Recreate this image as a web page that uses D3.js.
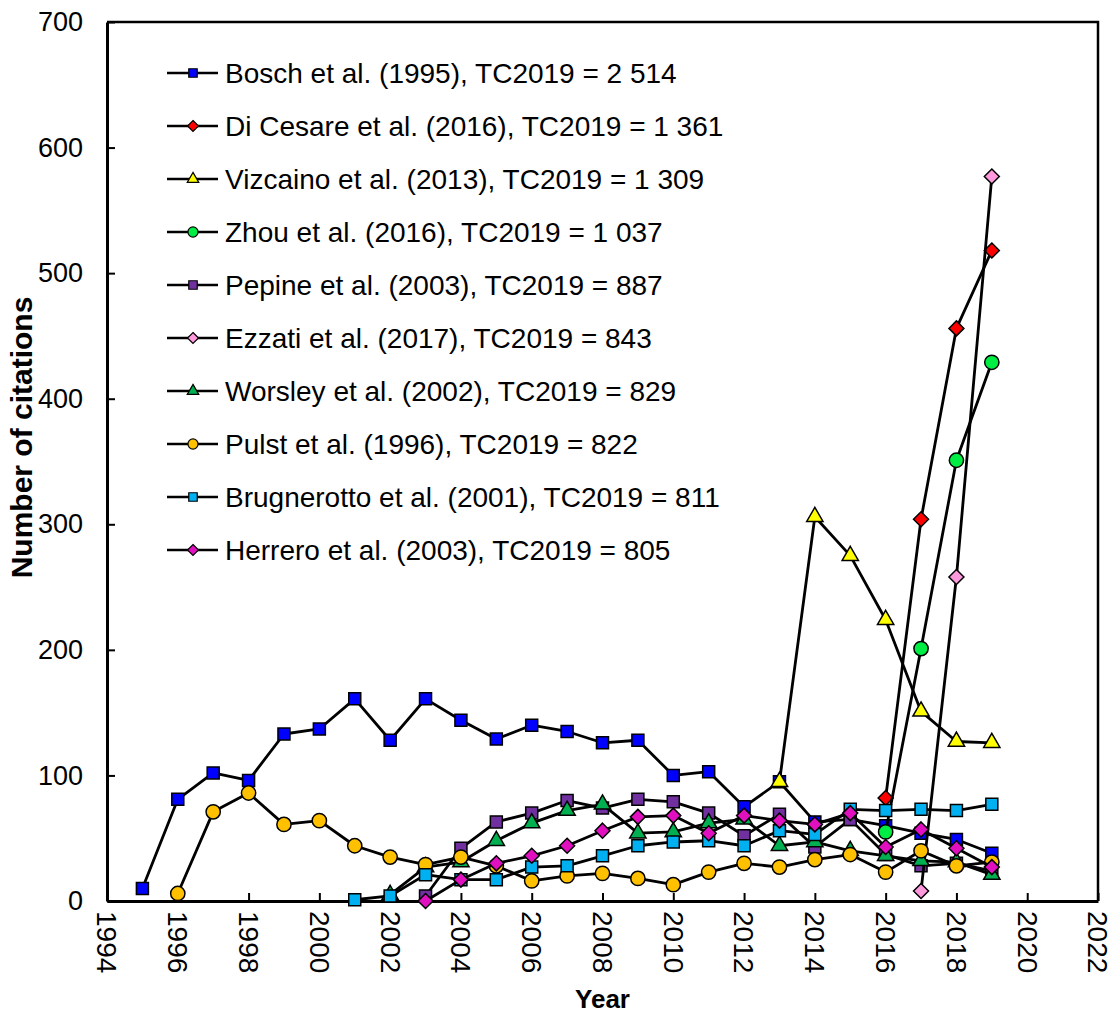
<!DOCTYPE html>
<html>
<head>
<meta charset="utf-8">
<script src="https://cdn.jsdelivr.net/npm/d3@7"></script>
<style>
  body { margin: 0; background: #fff; }
  text { font-family: "Liberation Sans", Arial, sans-serif; fill: #000; }
</style>
</head>
<body>
<script>
'use strict';

// series names as in the legend
const names = [
  "Bosch et al. (1995), TC2019 = 2 514",
  "Di Cesare et al. (2016), TC2019 = 1 361",
  "Vizcaino et al. (2013), TC2019 = 1 309",
  "Zhou et al. (2016), TC2019 = 1 037",
  "Pepine et al. (2003), TC2019 = 887",
  "Ezzati et al. (2017), TC2019 = 843",
  "Worsley et al. (2002), TC2019 = 829",
  "Pulst et al. (1996), TC2019 = 822",
  "Brugnerotto et al. (2001), TC2019 = 811",
  "Herrero et al. (2003), TC2019 = 805"
];

// first year of each series
const startYears = [1995, 2016, 2013, 2016, 2003, 2017, 2002, 1996, 2001, 2003];

// citations per year, starting at startYears
const bosch = [10, 81, 102, 96, 133, 137, 161, 128, 161, 144, 129, 140, 135, 126, 128, 100, 103, 75, 95, 63, 65, 60, 54, 49, 38];
const diCesare = [82, 304, 456, 518];
const vizcaino = [95, 306, 275, 224, 151, 127, 126];
const zhou = [55, 201, 351, 429];
const pepine = [4, 42, 63, 70, 80, 74, 81, 79, 70, 52, 69, 43, 65, 37, 28, 30, 24];
const ezzati = [8, 258, 577];
const worsley = [5, 27, 31, 48, 62, 72, 77, 54, 55, 62, 65, 44, 47, 40, 36, 32, 31, 21];
const pulst = [6, 71, 86, 61, 64, 44, 35, 29, 35, 28, 16, 20, 22, 18, 13, 23, 30, 27, 33, 37, 23, 40, 28, 31];
const brugnerotto = [1, 4, 21, 17, 17, 27, 28, 36, 44, 47, 48, 44, 56, 53, 73, 72, 73, 72, 77];
const herrero = [0, 17, 30, 36, 44, 56, 67, 68, 54, 68, 64, 61, 70, 43, 57, 42, 27];

const seriesValues = [bosch, diCesare, vizcaino, zhou, pepine, ezzati, worsley, pulst, brugnerotto, herrero];

const colors = ["#0000FF", "#FF0000", "#FFFF00", "#00EE44", "#7030A0", "#FF99DD", "#00B050", "#FFC000", "#00B0F0", "#E010C0"];
const shapes = ["square", "diamond", "triangle", "circle", "square", "diamond", "triangle", "circle", "square", "diamond"];

const xTicks = d3.range(1994, 2023, 2);
const yTicks = [0, 100, 200, 300, 400, 500, 600, 700];

const svg = d3.select("body").append("svg")
  .attr("width", 1109)
  .attr("height", 1015);

const xScale = d3.scaleLinear().domain([1994, 2022]).range([107, 1098]);
const yScale = d3.scaleLinear().domain([0, 700]).range([901, 22]);

// marker path generator, big for the plot and small for the legend
function markerPath(shape, small) {
  const k = small ? 0.5 : 1;
  if (shape === "square") return d3.symbol(d3.symbolSquare, 144 * k)();
  if (shape === "circle") return d3.symbol(d3.symbolCircle, 160 * k)();
  if (shape === "triangle") return d3.symbol(d3.symbolTriangle, 115 * k)();
  // diamond: square turned 45 degrees
  const h = small ? 5.5 : 7.5;
  return `M0,${-h}L${h},0L0,${h}L${-h},0Z`;
}

// frame (top and right edges)
svg.append("path")
  .attr("d", `M${xScale(1994)},${yScale(700)}H${xScale(2022)}V${yScale(0)}`)
  .attr("fill", "none")
  .attr("stroke", "#000")
  .attr("stroke-width", 2.5);

// axes
const xAxis = svg.append("g")
  .attr("transform", `translate(0,${yScale(0)})`)
  .call(d3.axisBottom(xScale).tickValues(xTicks).tickFormat(d3.format("d")).tickSizeInner(-8).tickSizeOuter(0));
xAxis.select(".domain").attr("stroke-width", 3);
xAxis.selectAll(".tick line").attr("stroke-width", 2);
xAxis.selectAll(".tick text")
  .attr("transform", "rotate(90)")
  .attr("x", 10)
  .attr("y", 0)
  .attr("dy", "0.36em")
  .attr("text-anchor", "start")
  .style("font-size", "28px")
  .style("font-family", "Liberation Sans, Arial, sans-serif");

const yAxis = svg.append("g")
  .attr("transform", `translate(${xScale(1994)},0)`)
  .call(d3.axisLeft(yScale).tickValues(yTicks).tickSizeInner(-8).tickSizeOuter(0));
yAxis.select(".domain").attr("stroke-width", 3);
yAxis.selectAll(".tick line").attr("stroke-width", 2);
yAxis.selectAll(".tick text")
  .attr("x", -24)
  .style("font-size", "27px")
  .style("font-family", "Liberation Sans, Arial, sans-serif");

// axis titles
svg.append("text")
  .attr("x", (xScale(1994) + xScale(2022)) / 2)
  .attr("y", 1008)
  .attr("text-anchor", "middle")
  .style("font-size", "26px")
  .style("font-weight", "bold")
  .text("Year");

svg.append("text")
  .attr("transform", `translate(32,${(yScale(0) + yScale(700)) / 2 - 24})rotate(-90)`)
  .attr("text-anchor", "middle")
  .style("font-size", "30px")
  .style("font-weight", "bold")
  .text("Number of citations");

// lines and markers, one series after the other
const line = d3.line()
  .x(d => xScale(d.year))
  .y(d => yScale(d.value));

seriesValues.forEach((vals, i) => {
  const pts = vals.map((v, j) => ({ year: startYears[i] + j, value: v }));
  const g = svg.append("g");
  g.append("path")
    .datum(pts)
    .attr("d", line)
    .attr("fill", "none")
    .attr("stroke", "#000")
    .attr("stroke-width", 2.8)
    .attr("stroke-linejoin", "round");
  g.selectAll(".mark")
    .data(pts)
    .enter()
    .append("path")
    .attr("class", "mark")
    .attr("transform", d => `translate(${xScale(d.year)},${yScale(d.value)})`)
    .attr("d", markerPath(shapes[i], false))
    .attr("fill", colors[i])
    .attr("stroke", "#000")
    .attr("stroke-width", 1.5);
});

// legend
const legend = svg.append("g");
names.forEach((name, i) => {
  const y = 73 + i * 53;
  legend.append("line")
    .attr("x1", 167)
    .attr("x2", 218)
    .attr("y1", y)
    .attr("y2", y)
    .attr("stroke", "#000")
    .attr("stroke-width", 2.5);
  legend.append("path")
    .attr("transform", `translate(193,${y})`)
    .attr("d", markerPath(shapes[i], true))
    .attr("fill", colors[i])
    .attr("stroke", "#000")
    .attr("stroke-width", 1.2);
  legend.append("text")
    .attr("x", 225)
    .attr("y", y)
    .attr("dy", "0.36em")
    .style("font-size", "28px")
    .text(name);
});
</script>
</body>
</html>
